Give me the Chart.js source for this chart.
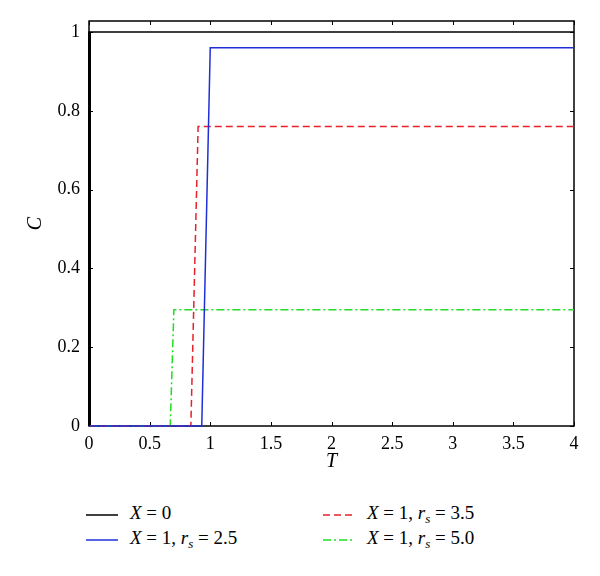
<!DOCTYPE html>
<html>
<head>
<meta charset="utf-8">
<script src="https://cdn.jsdelivr.net/npm/chart.js@4"></script>
<style>
  body { margin: 0; background: #fff; }
  #wrap { position: relative; width: 600px; height: 576px; }
  #holder { position: absolute; left: 0; top: 0; width: 600px; height: 480px; }
  .leg { position: absolute; font-family: "Liberation Serif", "Times New Roman", "DejaVu Serif", serif; font-size: 19px; color: #000; white-space: nowrap; line-height: 22px; }
  .leg svg { vertical-align: middle; margin-right: 12px; }
  .leg sub { font-size: 13px; font-style: italic; vertical-align: -4px; line-height: 0; }
</style>
</head>
<body>
<div id="wrap">
  <div id="holder"><canvas id="myChart" width="600" height="480"></canvas></div>
</div>
<script>
// datos
const tX0 = [0, 0, 4]
const cX0 = [0, 1, 1]
const tRs25 = [0, 0.93, 1.0, 4]
const cRs25 = [0, 0, 0.96, 0.96]
const tRs35 = [0, 0.84, 0.90, 4]
const cRs35 = [0, 0, 0.76, 0.76]
const tRs50 = [0, 0.67, 0.70, 4]
const cRs50 = [0, 0, 0.295, 0.295]

const xTicks = [0, 0.5, 1, 1.5, 2, 2.5, 3, 3.5, 4]
const yTicks = [0, 0.2, 0.4, 0.6, 0.8, 1]

const nombres = ['X = 0', 'X = 1, r_s = 2.5', 'X = 1, r_s = 3.5', 'X = 1, r_s = 5.0']
const colores = ['#000000', '#1f2fd8', '#e8202a', '#22dd22']
const guiones = [[], [], [7, 4], [8, 3, 2, 3]]

function puntos(ts, cs){
    return ts.map((t, i) => ({x: t, y: cs[i]}))
}

// marco y marcas hacia adentro
const marco = {
    id: 'marco',
    beforeDatasetsDraw(chart){
        const {ctx, chartArea: a, scales} = chart
        ctx.save()
        ctx.strokeStyle = '#000'
        ctx.lineWidth = 1.5
        ctx.strokeRect(a.left, a.top, a.right - a.left, a.bottom - a.top)
        // eje izquierdo mas grueso (la curva X = 0 sube por ahi)
        ctx.lineWidth = 3
        ctx.beginPath()
        ctx.moveTo(a.left + 0.5, a.bottom)
        ctx.lineTo(a.left + 0.5, scales.y.getPixelForValue(1))
        ctx.stroke()
        ctx.lineWidth = 1
        ctx.beginPath()
        xTicks.forEach(v => {
            const x = Math.round(scales.x.getPixelForValue(v)) + 0.5
            ctx.moveTo(x, a.bottom); ctx.lineTo(x, a.bottom - 4)
            ctx.moveTo(x, a.top); ctx.lineTo(x, a.top + 4)
        })
        yTicks.forEach(v => {
            const y = Math.round(scales.y.getPixelForValue(v)) + 0.5
            ctx.moveTo(a.left, y); ctx.lineTo(a.left + 4, y)
            ctx.moveTo(a.right, y); ctx.lineTo(a.right - 4, y)
        })
        ctx.stroke()
        ctx.restore()
    }
}

const familia = '"Liberation Serif", "Times New Roman", "DejaVu Serif", serif'
const fuente = {family: familia, size: 18}
const fuenteTitulo = {family: familia, size: 20, style: 'italic'}

const ctx = document.getElementById('myChart')
const mychart = new Chart(ctx, {
    type: 'line',
    data: {
        datasets: [
            {label: nombres[0], data: puntos(tX0, cX0)},
            {label: nombres[1], data: puntos(tRs25, cRs25)},
            {label: nombres[2], data: puntos(tRs35, cRs35)},
            {label: nombres[3], data: puntos(tRs50, cRs50)}
        ].map((d, i) => ({
            ...d,
            borderColor: colores[i],
            borderDash: guiones[i],
            borderWidth: 1.5,
            pointRadius: 0,
            tension: 0,
            fill: false,
            clip: 3
        }))
    },
    options: {
        responsive: false,
        animation: false,
        events: [],
        layout: {padding: {left: 0, right: 26, top: 21, bottom: 0}},
        plugins: {legend: {display: false}, tooltip: {enabled: false}},
        scales: {
            x: {
                type: 'linear', min: 0, max: 4,
                afterBuildTicks: s => { s.ticks = xTicks.map(v => ({value: v})) },
                afterFit: s => { s.height = 54 },
                grid: {display: false, drawTicks: false},
                border: {display: false},
                ticks: {color: '#000', font: fuente, padding: 7, callback: v => String(v)},
                title: {display: true, text: 'T', color: '#000', font: fuenteTitulo,
                    padding: {top: 0, bottom: 6}}
            },
            y: {
                type: 'linear', min: 0, max: 1.028,
                afterBuildTicks: s => { s.ticks = yTicks.map(v => ({value: v})) },
                afterFit: s => { s.width = 89 },
                grid: {display: false, drawTicks: false},
                border: {display: false},
                ticks: {color: '#000', font: fuente, padding: 9, callback: v => String(v)},
                title: {display: true, text: 'C', color: '#000', font: fuenteTitulo,
                    padding: {top: 24, bottom: 0}}
            }
        }
    },
    plugins: [marco]
})

// leyenda en html
function muestra(color, dash){
    return '<svg width="32" height="4"><line x1="0" y1="2" x2="32" y2="2" stroke="' + color +
        '" stroke-width="1.5" stroke-dasharray="' + (dash.length ? dash.join(',') : 'none') + '"/></svg>'
}
function texto(n){
    return n.replace('X', '<i>X</i>').replace('r_s', '<i>r</i><sub>s</sub>')
}
const posiciones = [[86, 502], [86, 527], [323, 502], [323, 527]]
nombres.forEach((n, i) => {
    const d = document.createElement('div')
    d.className = 'leg'
    d.style.left = posiciones[i][0] + 'px'
    d.style.top = posiciones[i][1] + 'px'
    d.innerHTML = muestra(colores[i], guiones[i]) + texto(n)
    document.getElementById('wrap').appendChild(d)
})
</script>
</body>
</html>
